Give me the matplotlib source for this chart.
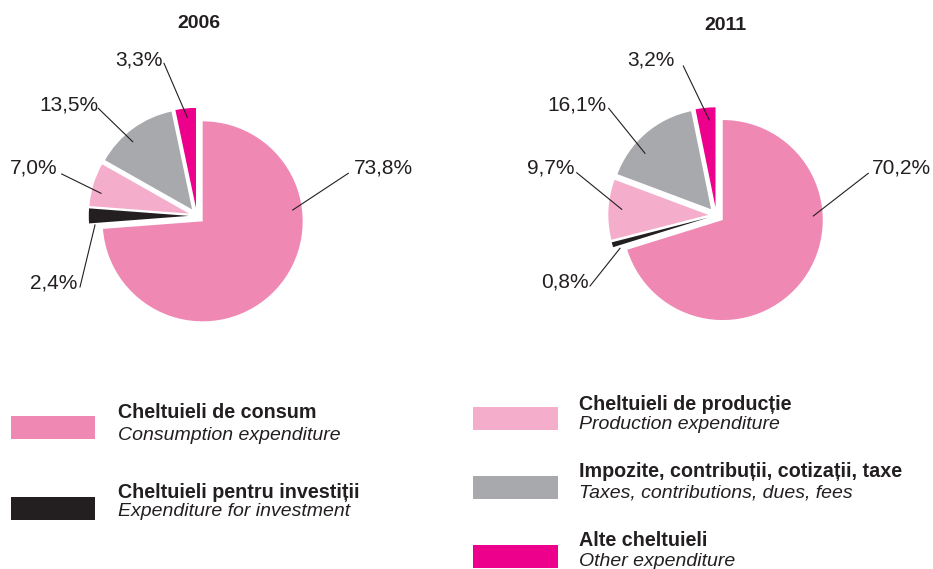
import matplotlib
matplotlib.use('Agg')
import matplotlib.pyplot as plt
from matplotlib.patches import Rectangle

plt.rcParams.update({
    'font.family': ['Liberation Sans', 'DejaVu Sans'],
    'text.color': '#231F20',
})

# data
years = ['2006', '2011']
shares_2006 = [73.8, 2.4, 7.0, 13.5, 3.3]
shares_2011 = [70.2, 0.8, 9.7, 16.1, 3.2]
names_ro = ['Cheltuieli de consum', 'Cheltuieli pentru investiții',
            'Cheltuieli de producție', 'Impozite, contribuții, cotizații, taxe',
            'Alte cheltuieli']
names_en = ['Consumption expenditure', 'Expenditure for investment',
            'Production expenditure', 'Taxes, contributions, dues, fees',
            'Other expenditure']
colors = ['#F088B4', '#231F20', '#F4AECB', '#A7A9AC', '#EC008C']

W, H = 933, 569
fig = plt.figure(figsize=(W / 100, H / 100), dpi=100)

# label layout per pie: (text pos, text ha, line start, line end) in pie units
label_layout = {
    '2006': [((1.572, 0.479), 'left', (1.515, 0.426), (0.959, 0.059)),
             ((-1.198, -0.671), 'right', (-1.168, -0.711), (-1.018, -0.091)),
             ((-1.398, 0.479), 'right', (-1.351, 0.419), (-0.958, 0.226)),
             ((-0.988, 1.109), 'right', (-0.985, 1.076), (-0.641, 0.742)),
             ((-0.338, 1.559), 'right', (-0.328, 1.526), (-0.095, 0.986))],
    '2011': [((1.554, 0.473), 'left', (1.52, 0.42), (0.97, -0.007)),
             ((-1.28, -0.664), 'right', (-1.263, -0.707), (-0.963, -0.33)),
             ((-1.413, 0.473), 'right', (-1.396, 0.426), (-0.946, 0.06)),
             ((-1.096, 1.103), 'right', (-1.076, 1.07), (-0.713, 0.62)),
             ((-0.413, 1.553), 'right', (-0.33, 1.493), (-0.07, 0.953))],
}
centers = {'2006': (196.8, 215.9), '2011': (716.3, 215.3)}
title_pos = {'2006': (198.5, 23), '2011': (725, 25)}
R = 100  # pie radius in pixels
half = 2.0

for year, shares in zip(years, [shares_2006, shares_2011]):
    cx, cy = centers[year]
    ax = fig.add_axes([(cx - half * R) / W, (H - cy - half * R) / H,
                       2 * half * R / W, 2 * half * R / H])
    ax.pie(shares, colors=colors, startangle=90, counterclock=False,
           explode=[0.08] * len(shares), wedgeprops=dict(linewidth=0))
    ax.set_xlim(-half, half)
    ax.set_ylim(-half, half)
    ax.axis('off')
    for v, (tpos, ha, p0, p1) in zip(shares, label_layout[year]):
        ax.plot([p0[0], p1[0]], [p0[1], p1[1]], color='#231F20', lw=0.8,
                clip_on=False)
        ax.text(tpos[0], tpos[1], f'{v:.1f}'.replace('.', ',') + '%',
                ha=ha, va='center', fontsize=15, clip_on=False)
    tx, ty = title_pos[year]
    fig.text(tx / W, 1 - ty / H, year, ha='center', va='center',
             fontsize=14, fontweight='bold')

# legend: (patch x0, patch top, text x, bold y, italic y) in pixels
legend_layout = [(10.7, 416, 118, 413, 435),
                 (10.7, 497, 118, 492, 512),
                 (473, 407, 579, 404, 424.5),
                 (473, 476, 579, 471.5, 493),
                 (473, 545, 579, 540.5, 561.5)]
for ro, en, c, (px, pt, tx, by, iy) in zip(names_ro, names_en, colors, legend_layout):
    fig.patches.append(Rectangle((px / W, 1 - (pt + 23) / H), 84.5 / W, 23 / H,
                                 transform=fig.transFigure, facecolor=c,
                                 edgecolor='none'))
    fig.text(tx / W, 1 - by / H, ro, ha='left', va='center', fontsize=14.2,
             fontweight='bold')
    fig.text(tx / W, 1 - iy / H, en, ha='left', va='center', fontsize=14,
             fontstyle='italic')

fig.savefig('out.png', dpi=100, facecolor='white')
